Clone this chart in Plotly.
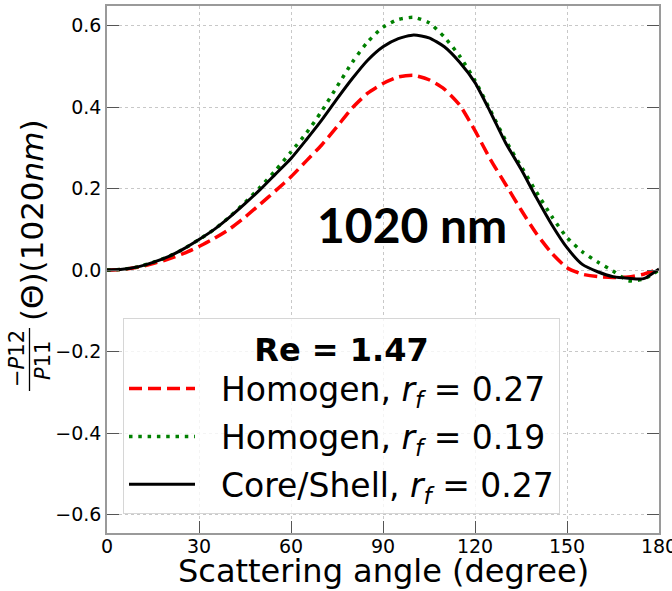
import plotly.graph_objects as go

# ---- data ----
angles = [0, 5, 10, 15, 20, 25, 30, 35, 40, 45, 50, 55, 60, 65, 70, 75, 80, 85, 90,
          95, 100, 105, 110, 115, 120, 125, 130, 135, 140, 145, 150, 155, 160, 165,
          170, 175, 180]

homogen_027 = [0.000, 0.002, 0.007, 0.016, 0.027, 0.041, 0.058, 0.078, 0.101, 0.130,
               0.162, 0.195, 0.229, 0.268, 0.307, 0.352, 0.398, 0.434, 0.458, 0.474,
               0.478, 0.467, 0.444, 0.405, 0.342, 0.272, 0.210, 0.148, 0.090, 0.042,
               0.006, -0.010, -0.016, -0.018, -0.017, -0.010, 0.003]

homogen_019 = [0.000, 0.002, 0.008, 0.019, 0.033, 0.052, 0.075, 0.100, 0.131, 0.166,
               0.204, 0.245, 0.290, 0.336, 0.390, 0.450, 0.510, 0.560, 0.596, 0.615,
               0.620, 0.607, 0.572, 0.525, 0.465, 0.392, 0.318, 0.255, 0.192, 0.132,
               0.080, 0.045, 0.020, -0.002, -0.026, -0.022, 0.000]

coreshell_027 = [0.000, 0.002, 0.008, 0.019, 0.033, 0.052, 0.075, 0.100, 0.130, 0.163,
                 0.198, 0.236, 0.274, 0.320, 0.368, 0.420, 0.470, 0.515, 0.548, 0.568,
                 0.577, 0.570, 0.548, 0.510, 0.460, 0.388, 0.312, 0.248, 0.178, 0.112,
                 0.055, 0.014, -0.004, -0.016, -0.020, -0.021, 0.003]

NB = "\u00a0\u00a0"
series_names = [NB + "Homogen, <i>r</i><sub><i>f</i></sub> = 0.27",
                NB + "Homogen, <i>r</i><sub><i>f</i></sub> = 0.19",
                NB + "Core/Shell, <i>r</i><sub><i>f</i></sub> = 0.27"]

x_ticks = [0, 30, 60, 90, 120, 150, 180]
y_ticks = [-0.6, -0.4, -0.2, 0.0, 0.2, 0.4, 0.6]

# ---- figure ----
W, H = 672, 591
ML, MR, MT, MB = 107, 13, 6, 58
PW, PH = W - ML - MR, H - MT - MB


def px(x):
    return (x - ML) / PW


def py(y):
    return (H - MB - y) / PH


fig = go.Figure()
fig.add_trace(go.Scatter(x=angles, y=homogen_027, mode="lines", name=series_names[0],
                         legendgroup="a",
                         line=dict(color="#ff0000", width=3.5, dash="13px,6px", shape="spline", smoothing=0.6)))
fig.add_trace(go.Scatter(x=angles, y=homogen_019, mode="lines", name=series_names[1],
                         legendgroup="b",
                         line=dict(color="#008000", width=3.5, dash="3.5px,5.8px", shape="spline", smoothing=0.6)))
fig.add_trace(go.Scatter(x=angles, y=coreshell_027, mode="lines", name=series_names[2],
                         legendgroup="c",
                         line=dict(color="#000000", width=3, shape="spline", smoothing=0.6)))

axis_common = dict(
    showgrid=True, gridcolor="#c8c8c8", gridwidth=1, griddash="dot",
    showline=True, linecolor="#9a9a9a", linewidth=1.5,
    ticks="inside", ticklen=12, tickwidth=1.2, tickcolor="#555555",
    zeroline=False, automargin=False,
    tickfont=dict(family="DejaVu Sans", size=19, color="#000000"),
)

fig.update_xaxes(range=[0, 180], tickvals=x_ticks, ticktext=[str(v) for v in x_ticks],
                 mirror=True, ticklabeloverflow="allow", ticklabelstandoff=-5,
                 **axis_common)
fig.update_yaxes(range=[-0.645, 0.648], tickvals=y_ticks, tickformat=".1f",
                 mirror="ticks", **axis_common)

annotations = [
    # x-axis title
    dict(x=px(383), y=py(592), xref="paper", yref="paper",
         text="Scattering angle (degree)", showarrow=False,
         font=dict(family="DejaVu Sans", size=32, color="#000000"),
         xanchor="center", yanchor="bottom"),
    # panel label
    dict(x=px(412), y=py(224), xref="paper", yref="paper", text="<b>1020 nm</b>",
         showarrow=False, font=dict(family="Lato", size=48, color="#000000"),
         xanchor="center", yanchor="middle"),
    # y-axis label pieces
    dict(x=px(32), y=py(220), xref="paper", yref="paper",
         text="(\u0398)(1020<i>nm</i>)", textangle=-90, showarrow=False,
         font=dict(family="DejaVu Sans", size=31, color="#000000"),
         xanchor="center", yanchor="middle"),
    dict(x=px(17), y=py(359), xref="paper", yref="paper",
         text="\u2212<i>P</i>12", textangle=-90, showarrow=False,
         font=dict(family="DejaVu Sans", size=21, color="#000000"),
         xanchor="center", yanchor="middle"),
    dict(x=px(43), y=py(361), xref="paper", yref="paper",
         text="<i>P</i>11", textangle=-90, showarrow=False,
         font=dict(family="DejaVu Sans", size=21, color="#000000"),
         xanchor="center", yanchor="middle"),
]

shapes = [
    dict(type="line", xref="paper", yref="paper",
         x0=px(29.5), x1=px(29.5), y0=py(328), y1=py(391),
         line=dict(color="#000000", width=1.3)),
]

fig.update_layout(
    width=W, height=H,
    margin=dict(l=ML, r=MR, t=MT, b=MB, autoexpand=False),
    paper_bgcolor="#ffffff", plot_bgcolor="#ffffff",
    annotations=annotations, shapes=shapes,
    showlegend=True,
    legend=dict(
        x=px(123), y=py(318), xanchor="left", yanchor="top",
        xref="paper", yref="paper",
        bgcolor="rgba(255,255,255,0.8)", bordercolor="#d6d6d6", borderwidth=1,
        font=dict(family="DejaVu Sans", size=33, color="#000000"),
        title=dict(text="<b>Re = 1.47</b>", side="top center",
                   font=dict(family="DejaVu Sans", size=32, color="#000000")),
        traceorder="grouped", tracegroupgap=2, itemwidth=66,
    ),
)

fig.write_html("out.html")
